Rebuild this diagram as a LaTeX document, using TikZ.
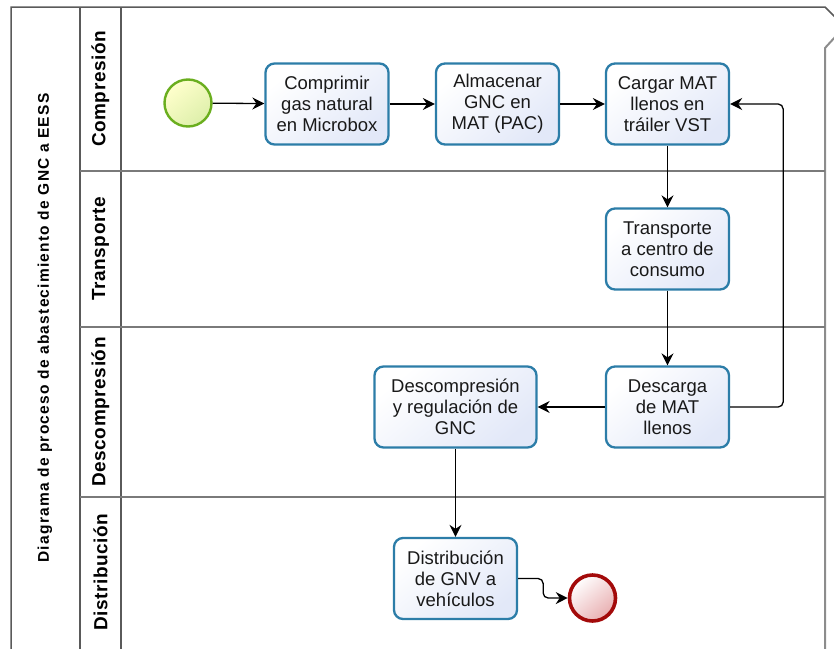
\documentclass[tikz,border=0pt]{standalone}
\usepackage{fontspec}
\setmainfont{Liberation Sans}
\newfontfamily\titlefont[LetterSpace=8]{Liberation Sans}
\newfontfamily\lanefont[LetterSpace=3]{Liberation Sans}
\usetikzlibrary{arrows.meta}

\definecolor{poolline}{HTML}{5A5A5A}
\definecolor{laneline}{HTML}{7A7A7A}
\definecolor{edgeline}{HTML}{8C8C8C}
\definecolor{taskline}{HTML}{2C7DA8}
\definecolor{taskfill}{HTML}{E2E8F8}
\definecolor{startline}{HTML}{6AAE1E}
\definecolor{startfill}{HTML}{DDEFAA}
\definecolor{endline}{HTML}{A30A0A}
\definecolor{endfill}{HTML}{E8AEB0}

\tikzset{
  task/.style={draw=taskline, line width=2.3pt, rounded corners=9pt,
    top color=white, bottom color=taskfill, shading angle=40,
    minimum width=123pt, minimum height=81pt, inner sep=2pt,
    align=center, text=black!90,
    font=\fontsize{18.5}{21}\selectfont},
  startev/.style={circle, draw=startline, line width=2.4pt,
    top color=white!80!yellow, bottom color=startfill, shading angle=40,
    minimum size=47pt, inner sep=0pt},
  endev/.style={circle, draw=endline, line width=3.6pt,
    top color=white, bottom color=endfill, shading angle=40,
    minimum size=46pt, inner sep=0pt},
  flow/.style={draw=black, line width=1.3pt,
    -{Stealth[length=12pt, width=12pt, inset=4pt]}},
  lanelabel/.style={rotate=90, font=\lanefont\bfseries\fontsize{19}{22}\selectfont},
  pooltitle/.style={rotate=90, font=\titlefont\bfseries\fontsize{15.5}{18}\selectfont}
}

\begin{document}
\begin{tikzpicture}[x=1pt, y=-1pt]
\useasboundingbox (0,0) rectangle (834,648);
\clip (0,0) rectangle (834,648);

% pool frame with a break mark on the right
\draw[poolline, line width=1.5pt] (11,650) -- (11,7) -- (825,7) -- (836,18);
\draw[edgeline, line width=2pt] (836,36) -- (825,48) -- (825,650);
\draw[poolline, line width=1.3pt] (80,7) -- (80,650);
\draw[poolline, line width=1.3pt] (121,7) -- (121,650);

% lane dividers
\draw[laneline, line width=1.5pt] (80,171) -- (825,171);
\draw[laneline, line width=1.5pt] (80,327) -- (825,327);
\draw[laneline, line width=1.5pt] (80,497) -- (825,497);

% pool and lane titles
\node[pooltitle] (pool) at (45,328) {Diagrama de proceso de abastecimiento de GNC a EESS};
\node[lanelabel] (lane1) at (100.5,89) {Compresión};
\node[lanelabel] (lane2) at (100.5,249) {Transporte};
\node[lanelabel] (lane3) at (100.5,412) {Descompresión};
\node[lanelabel] (lane4) at (100.5,572) {Distribución};

% events
\node[startev] (start) at (188,103) {};
\node[endev] (end) at (592.5,598) {};

% tasks
\node[task] (t1) at (327,104) {Comprimir\\gas natural\\en Microbox};
\node[task] (t2) at (497.5,104) {Almacenar\\GNC en\\MAT (PAC)};
\node[task] (t3) at (667.5,104) {Cargar MAT\\llenos en\\tráiler VST};
\node[task] (t4) at (667.5,249) {Transporte\\a centro de\\consumo};
\node[task] (t5) at (667.5,407) {Descarga\\de MAT\\llenos};
\node[task, minimum width=162pt] (t6) at (455.5,407) {Descompresión\\y regulación de\\GNC};
\node[task] (t7) at (455.5,578.5) {Distribución\\de GNV a\\vehículos};

% sequence flows
\draw[flow] (start) -- (t1);
\draw[flow] (t1) -- (t2);
\draw[flow] (t2) -- (t3);
\draw[flow] (t3) -- (t4);
\draw[flow] (t4) -- (t5);
\draw[flow] (t5) -- (t6);
\draw[flow] (t6) -- (t7);
\draw[flow, rounded corners=5pt] (t5.east) -- ++(53,0) |- (t3.east);
\draw[flow, rounded corners=5pt] (t7.east) -- ++(25,0) |- (end.west);
\end{tikzpicture}
\end{document}
